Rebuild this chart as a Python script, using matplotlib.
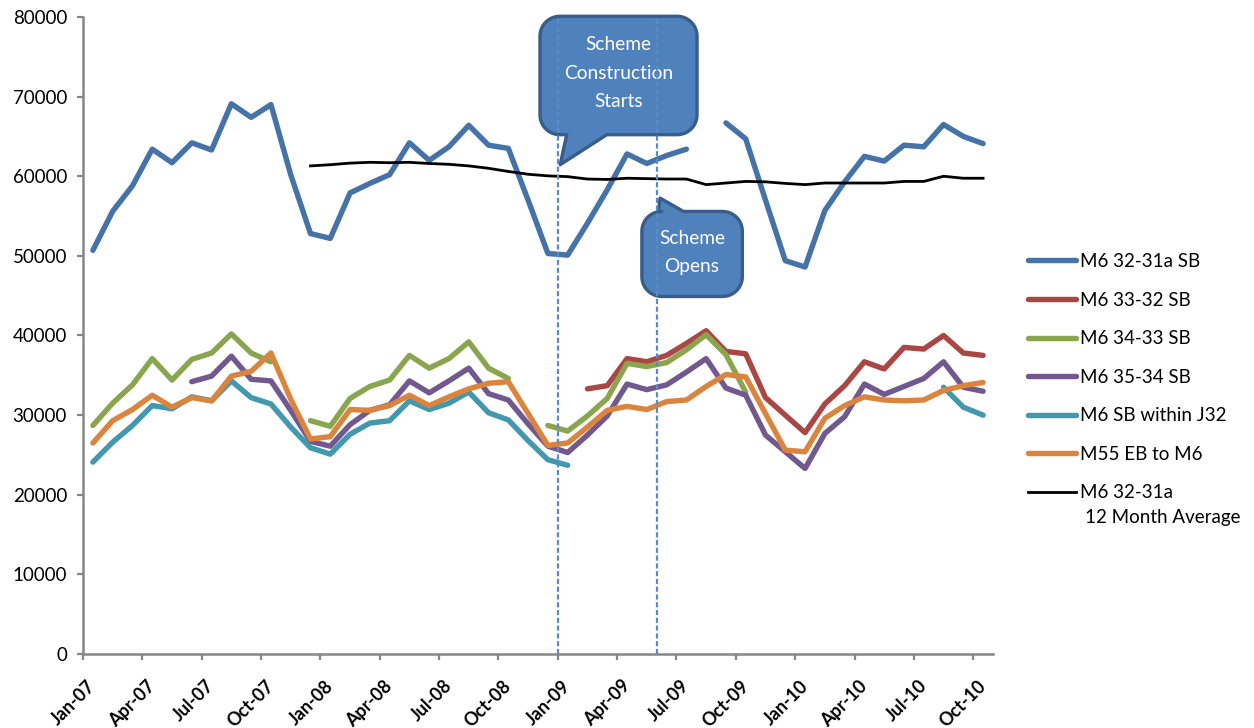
import matplotlib
matplotlib.use("Agg")
import matplotlib.pyplot as plt
import numpy as np
from matplotlib.patches import Polygon
from matplotlib.transforms import IdentityTransform, ScaledTranslation

plt.rcParams["font.family"] = ["Lato", "DejaVu Sans"]

nan = np.nan

# monthly counts, Jan-07 .. Oct-10 (46 months)
tick_labels = [
    "Jan-07", "Apr-07", "Jul-07", "Oct-07",
    "Jan-08", "Apr-08", "Jul-08", "Oct-08",
    "Jan-09", "Apr-09", "Jul-09", "Oct-09",
    "Jan-10", "Apr-10", "Jul-10", "Oct-10",
]

m6_32_31a_sb = [
    50700, 55600, 58800, 63400, 61700, 64200, 63300, 69100, 67400, 69000,
    60200, 52800, 52200, 57900, 59100, 60200, 64200, 62000, 63700, 66400,
    63900, 63500, 57000, 50300, 50100, 54100, 58300, 62800, 61600, 62600,
    63400, nan, 66700, 64700, 57000, 49400, 48600, 55700, 59300, 62500,
    61900, 63900, 63700, 66500, 65000, 64100,
]
m6_33_32_sb = [
    nan, nan, nan, nan, nan, nan, nan, nan, nan, nan,
    nan, nan, nan, nan, nan, nan, nan, nan, nan, nan,
    nan, nan, nan, nan, nan, 33300, 33700, 37100, 36700, 37500,
    39000, 40600, 38000, 37700, 32200, 30000, 27800, 31400, 33700, 36700,
    35800, 38500, 38300, 40000, 37800, 37500,
]
m6_34_33_sb = [
    28700, 31500, 33800, 37100, 34400, 37000, 37800, 40200, 37800, 36700,
    nan, 29300, 28600, 32100, 33600, 34400, 37500, 35900, 37100, 39200,
    35900, 34600, nan, 28700, 28000, 29900, 32100, 36500, 36100, 36600,
    38200, 40100, 37600, 32900, nan, nan, nan, nan, nan, nan,
    nan, nan, nan, nan, nan, nan,
]
m6_35_34_sb = [
    nan, nan, nan, nan, nan, 34200, 34900, 37400, 34500, 34300,
    30600, 26700, 26100, 28800, 30600, 31300, 34300, 32800, 34300, 35900,
    32700, 31900, 28900, 26100, 25300, 27500, 29900, 33900, 33200, 33800,
    35400, 37100, 33400, 32500, 27500, 25400, 23300, 27700, 29800, 33900,
    32600, 33600, 34600, 36700, 33500, 33000,
]
m6_sb_within_j32 = [
    24100, 26600, 28700, 31200, 30800, 32300, 31800, 34300, 32200, 31400,
    28500, 25900, 25100, 27600, 29000, 29300, 31800, 30700, 31500, 32900,
    30300, 29400, 26800, 24400, 23700, nan, nan, nan, nan, nan,
    nan, nan, nan, nan, nan, nan, nan, nan, nan, nan,
    nan, nan, nan, 33500, 31000, 30000,
]
m55_eb_to_m6 = [
    26500, 29300, 30700, 32500, 31000, 32200, 31800, 34900, 35500, 37800,
    32000, 27000, 27300, 30700, 30600, 31200, 32500, 31200, 32300, 33300,
    34000, 34200, 30200, 26200, 26500, 28500, 30600, 31100, 30700, 31700,
    31900, 33600, 35100, 34800, 30200, 25600, 25400, 29600, 31200, 32300,
    31900, 31800, 31900, 33100, 33700, 34100,
]
m6_32_31a_avg = [
    nan, nan, nan, nan, nan, nan, nan, nan, nan, nan,
    nan, 61300, 61450, 61650, 61750, 61700, 61750, 61600, 61500, 61300,
    61000, 60600, 60250, 60050, 59950, 59650, 59600, 59750, 59700, 59650,
    59650, 58950, 59150, 59350, 59300, 59100, 58950, 59150, 59150, 59150,
    59150, 59350, 59350, 60000, 59750, 59750,
]

series = [
    ("M6 32-31a SB", m6_32_31a_sb, "#4572A7"),
    ("M6 33-32 SB", m6_33_32_sb, "#AA4643"),
    ("M6 34-33 SB", m6_34_33_sb, "#89A54E"),
    ("M6 35-34 SB", m6_35_34_sb, "#71588F"),
    ("M6 SB within J32", m6_sb_within_j32, "#4198AF"),
    ("M55 EB to M6", m55_eb_to_m6, "#DB843D"),
]

construction_start = 24  # month index of Jan-09
scheme_open = 29         # month index of Jun-09

fig = plt.figure(figsize=(12.54, 7.28), dpi=100)
ax = fig.add_axes([83 / 1254, 74 / 728, 910 / 1254, 637 / 728])

n = len(m6_32_31a_sb)
x = np.arange(n) + 0.5

for label, values, color in series:
    ax.plot(x, values, color=color, lw=3.9, label=label,
            solid_capstyle="round", solid_joinstyle="round", zorder=3)
ax.plot(x, m6_32_31a_avg, color="black", lw=2.0, label="M6 32-31a",
        solid_joinstyle="round", zorder=3)

ax.set_xlim(0, n)
ax.set_ylim(0, 80000)
ax.set_yticks(np.arange(0, 80001, 10000))
ax.set_xticks(np.arange(0, n, 3))

for side in ("top", "right"):
    ax.spines[side].set_visible(False)
for side in ("left", "bottom"):
    ax.spines[side].set_color("#868686")
    ax.spines[side].set_linewidth(1.8)
ax.tick_params(axis="y", length=4.5, width=1.6, color="#868686", pad=7,
               labelsize=13.5)
ax.tick_params(axis="x", length=4.5, width=1.6, color="#868686", pad=16.5)

# tick_params resets label transforms, so the sideways nudge comes after it
ax.set_xticklabels(tick_labels, rotation=45, ha="right", va="center",
                   rotation_mode="anchor", fontsize=13, fontweight="bold")
shift = ScaledTranslation(10 / 100, 0, fig.dpi_scale_trans)
for t in ax.get_xticklabels():
    t.set_transform(t.get_transform() + shift)

# callout boxes
K = (80000 / 637) / (n / 910)  # y-units per x-unit, keeps corners round


def callout_outline(x0, x1, y0, y1, side, base, tip, r=1.0):
    ry = r * K

    def arc(cx, cy, a0, a1):
        a = np.radians(np.linspace(a0, a1, 12))
        return list(zip(cx + r * np.cos(a), cy + ry * np.sin(a)))

    pts = arc(x0 + r, y0 + ry, 180, 270)
    if side == "bottom":
        pts += [(base[0], y0), tip, (base[1], y0)]
    pts += arc(x1 - r, y0 + ry, 270, 360)
    pts += arc(x1 - r, y1 - ry, 0, 90)
    if side == "top":
        pts += [(base[1], y1), tip, (base[0], y1)]
    pts += arc(x0 + r, y1 - ry, 90, 180)
    return pts


boxes = [
    (callout_outline(23.1, 31.04, 65220, 80090, "bottom",
                     (24.45, 26.48), (24.12, 61450)),
     (27.07, 72950), "Scheme\nConstruction\nStarts"),
    (callout_outline(28.25, 33.33, 44900, 55580, "top",
                     (29.08, 30.35), (29.17, 57260)),
     (30.79, 50390), "Scheme\nOpens"),
]
for pts, (tx, ty), text in boxes:
    ax.add_patch(Polygon(pts, closed=True, facecolor="#4F81BD",
                         edgecolor="#385D8A", lw=2.4, joinstyle="round",
                         zorder=5, clip_on=False))
    ax.text(tx, ty, text, color="white", fontsize=13.8, ha="center",
            va="center", linespacing=1.8, zorder=6)

for xv in (construction_start, scheme_open):
    ax.axvline(xv, color="#5A8BC8", lw=1.6, ls=(0, (2.3, 1.2)), zorder=7)

leg = ax.legend(loc="upper left", bbox_to_anchor=(1028 / 1254, 1 - 253 / 728),
                bbox_transform=fig.transFigure, frameon=False, fontsize=13.5,
                borderpad=0, borderaxespad=0, handlelength=2.55,
                handletextpad=0.2, labelspacing=1.15)

fig.canvas.draw()
bb = leg.get_texts()[-1].get_window_extent()
fig.text(bb.x0 + 5, bb.y0 - 25 + bb.height / 2, "12 Month Average",
         fontsize=13.5, va="center", ha="left", transform=IdentityTransform())

fig.savefig("out.png", dpi=100)
